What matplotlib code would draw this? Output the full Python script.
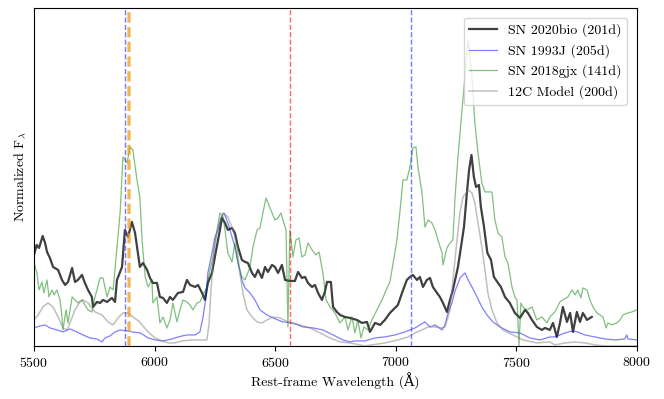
import matplotlib
matplotlib.use("Agg")
import matplotlib.pyplot as plt

plt.rcParams['font.family'] = ['cmr10', 'DejaVu Serif']
plt.rcParams['mathtext.fontset'] = 'cm'
plt.rcParams['axes.formatter.use_mathtext'] = True
plt.rcParams['font.size'] = 10

# SN 2020bio (201d)
wl_2020bio = [5500, 5511, 5521, 5536, 5546, 5554, 5566, 5579, 5600, 5616, 5629, 5641, 5658, 5670,
              5682, 5699, 5711, 5724, 5740, 5745, 5761, 5774, 5786, 5803, 5823, 5836, 5844, 5865,
              5877, 5890, 5906, 5919, 5939, 5952, 5969, 5981, 5993, 6010, 6022, 6035, 6051, 6064,
              6076, 6097, 6118, 6134, 6147, 6168, 6180, 6197, 6209, 6221, 6238, 6250, 6271, 6279,
              6292, 6304, 6321, 6333, 6346, 6362, 6375, 6387, 6404, 6416, 6429, 6445, 6458, 6470,
              6487, 6499, 6512, 6528, 6541, 6561, 6582, 6595, 6611, 6624, 6636, 6653, 6665, 6678,
              6694, 6706, 6715, 6731, 6740, 6756, 6769, 6789, 6810, 6839, 6860, 6881, 6893, 6914,
              6935, 6955, 6976, 6997, 7009, 7026, 7046, 7059, 7071, 7088, 7100, 7113, 7129, 7142,
              7154, 7171, 7183, 7196, 7212, 7225, 7237, 7258, 7283, 7295, 7304, 7314, 7324, 7333,
              7345, 7353, 7366, 7380, 7395, 7407, 7424, 7436, 7453, 7473, 7494, 7515, 7536, 7548,
              7565, 7585, 7606, 7619, 7639, 7652, 7668, 7681, 7693, 7710, 7723, 7735, 7751, 7764,
              7776, 7793, 7813]
fl_2020bio = [0.91, 1.01, 0.98, 1.10, 1.03, 0.94, 0.88, 0.79, 0.76, 0.66, 0.61, 0.64, 0.78, 0.64,
              0.66, 0.71, 0.63, 0.56, 0.49, 0.39, 0.44, 0.43, 0.46, 0.44, 0.48, 0.44, 0.66, 0.79,
              1.16, 1.09, 1.24, 1.13, 0.79, 0.83, 0.76, 0.68, 0.63, 0.63, 0.49, 0.48, 0.43, 0.49,
              0.46, 0.53, 0.54, 0.66, 0.61, 0.59, 0.61, 0.53, 0.46, 0.63, 0.73, 0.89, 1.16, 1.28,
              1.23, 1.16, 1.18, 1.13, 0.99, 0.86, 0.84, 0.83, 0.73, 0.69, 0.76, 0.68, 0.79, 0.74,
              0.81, 0.79, 0.73, 0.81, 0.66, 0.65, 0.65, 0.74, 0.68, 0.69, 0.63, 0.59, 0.61, 0.53,
              0.46, 0.54, 0.64, 0.64, 0.39, 0.34, 0.31, 0.29, 0.28, 0.26, 0.23, 0.24, 0.14, 0.23,
              0.21, 0.26, 0.33, 0.38, 0.41, 0.53, 0.66, 0.69, 0.71, 0.66, 0.69, 0.59, 0.66, 0.68,
              0.59, 0.53, 0.49, 0.43, 0.34, 0.46, 0.56, 0.79, 1.19, 1.53, 1.76, 1.91, 1.69, 1.59,
              1.61, 1.39, 1.19, 0.93, 0.86, 0.69, 0.63, 0.59, 0.49, 0.43, 0.33, 0.28, 0.36, 0.33,
              0.26, 0.19, 0.16, 0.18, 0.16, 0.23, 0.09, 0.23, 0.39, 0.24, 0.33, 0.14, 0.34, 0.24,
              0.33, 0.26, 0.29]

# SN 1993J (205d)
wl_1993J = [5500, 5525, 5546, 5566, 5595, 5620, 5649, 5678, 5703, 5732, 5761, 5782, 5794, 5815,
            5836, 5857, 5886, 5910, 5939, 5948, 5973, 6002, 6031, 6056, 6085, 6114, 6138, 6168,
            6188, 6201, 6213, 6221, 6238, 6250, 6263, 6275, 6288, 6304, 6321, 6333, 6346, 6362,
            6375, 6396, 6416, 6437, 6466, 6491, 6532, 6574, 6615, 6657, 6698, 6740, 6781, 6810,
            6831, 6872, 6914, 6955, 6997, 7038, 7080, 7100, 7121, 7142, 7163, 7192, 7204, 7217,
            7233, 7246, 7267, 7287, 7300, 7316, 7337, 7357, 7378, 7403, 7432, 7474, 7515, 7556,
            7598, 7639, 7660, 7702, 7731, 7755, 7784, 7826, 7867, 7909, 7950, 7958, 7963, 8000]
fl_1993J = [0.18, 0.20, 0.21, 0.18, 0.16, 0.14, 0.17, 0.14, 0.11, 0.08, 0.07, 0.04, 0.08, 0.10,
            0.14, 0.16, 0.15, 0.14, 0.13, 0.12, 0.08, 0.06, 0.05, 0.06, 0.08, 0.10, 0.11, 0.11,
            0.14, 0.29, 0.49, 0.73, 0.93, 1.09, 1.16, 1.28, 1.33, 1.23, 1.09, 0.99, 0.83, 0.66,
            0.58, 0.53, 0.46, 0.36, 0.31, 0.28, 0.24, 0.23, 0.19, 0.18, 0.16, 0.11, 0.06, 0.04,
            0.05, 0.05, 0.08, 0.09, 0.11, 0.14, 0.18, 0.21, 0.24, 0.19, 0.21, 0.16, 0.21, 0.33,
            0.43, 0.55, 0.68, 0.73, 0.66, 0.59, 0.49, 0.39, 0.31, 0.24, 0.19, 0.14, 0.13, 0.08,
            0.06, 0.09, 0.09, 0.13, 0.15, 0.14, 0.11, 0.09, 0.07, 0.06, 0.07, 0.11, 0.07, 0.06]

# SN 2018gjx (141d)
wl_2018gjx = [5500, 5512, 5521, 5533, 5541, 5554, 5562, 5575, 5583, 5595, 5608, 5616, 5620, 5633,
              5641, 5658, 5670, 5682, 5699, 5711, 5724, 5740, 5753, 5774, 5786, 5803, 5815, 5828,
              5844, 5857, 5869, 5886, 5898, 5910, 5927, 5939, 5948, 5961, 5973, 5989, 5993, 6010,
              6022, 6035, 6051, 6064, 6076, 6093, 6105, 6118, 6134, 6147, 6159, 6176, 6188, 6201,
              6217, 6230, 6242, 6259, 6271, 6284, 6292, 6304, 6321, 6333, 6346, 6362, 6375, 6396,
              6408, 6425, 6437, 6449, 6462, 6479, 6499, 6512, 6524, 6532, 6545, 6553, 6561, 6574,
              6586, 6599, 6611, 6624, 6636, 6653, 6669, 6682, 6698, 6711, 6727, 6748, 6769, 6789,
              6802, 6818, 6831, 6843, 6856, 6868, 6885, 6901, 6922, 6943, 6964, 6976, 6989, 7005,
              7018, 7030, 7046, 7059, 7071, 7084, 7092, 7109, 7121, 7134, 7150, 7163, 7175, 7192,
              7196, 7212, 7225, 7237, 7246, 7258, 7275, 7287, 7300, 7316, 7328, 7341, 7357, 7370,
              7399, 7411, 7424, 7440, 7453, 7465, 7482, 7494, 7503, 7511, 7519, 7527, 7544, 7565,
              7585, 7606, 7627, 7639, 7660, 7681, 7693, 7714, 7731, 7743, 7755, 7768, 7776, 7793,
              7805, 7818, 7834, 7847, 7859, 7872, 7880, 7896, 7917, 7930, 7942, 7963, 7979, 8000]
fl_2018gjx = [0.83, 0.73, 0.56, 0.64, 0.53, 0.66, 0.49, 0.56, 0.51, 0.56, 0.46, 0.29, 0.16, 0.36,
              0.23, 0.49, 0.46, 0.43, 0.46, 0.41, 0.36, 0.34, 0.49, 0.68, 0.68, 0.49, 0.59, 0.56,
              0.99, 1.33, 1.89, 1.83, 1.99, 1.96, 1.66, 1.49, 1.06, 0.69, 0.59, 0.66, 0.43, 0.49,
              0.23, 0.29, 0.18, 0.26, 0.43, 0.24, 0.36, 0.46, 0.44, 0.41, 0.36, 0.43, 0.44, 0.51,
              0.59, 0.76, 0.89, 1.16, 1.33, 1.29, 1.16, 0.93, 0.84, 1.03, 0.83, 0.69, 0.66, 0.79,
              0.99, 1.16, 1.18, 1.33, 1.48, 1.38, 1.26, 1.28, 1.33, 1.26, 1.16, 0.19, 1.16, 0.89,
              1.06, 1.08, 0.89, 0.91, 1.03, 0.96, 0.91, 0.94, 0.73, 0.46, 0.39, 0.33, 0.23, 0.29,
              0.16, 0.29, 0.13, 0.26, 0.08, 0.19, 0.16, 0.26, 0.36, 0.46, 0.58, 0.64, 0.83, 1.06,
              1.36, 1.66, 1.66, 1.79, 1.98, 1.99, 1.79, 1.53, 1.19, 1.26, 1.23, 1.16, 1.06, 0.93,
              0.81, 0.98, 1.03, 1.06, 1.49, 1.89, 2.36, 2.69, 3.06, 2.69, 2.23, 1.93, 1.63, 1.54,
              1.54, 1.26, 1.13, 1.09, 0.89, 0.83, 0.59, 0.49, 0.46, 0.00, 0.43, 0.39, 0.36, 0.39,
              0.26, 0.29, 0.23, 0.29, 0.34, 0.44, 0.46, 0.49, 0.56, 0.51, 0.56, 0.48, 0.58, 0.56,
              0.46, 0.39, 0.33, 0.31, 0.29, 0.18, 0.23, 0.21, 0.23, 0.26, 0.31, 0.33, 0.34, 0.36]

# 12C Model (200d)
wl_model = [5500, 5517, 5537, 5558, 5579, 5600, 5620, 5637, 5649, 5670, 5691, 5703, 5724, 5753,
            5782, 5807, 5828, 5848, 5869, 5890, 5910, 5939, 5948, 5973, 6002, 6031, 6056, 6085,
            6114, 6155, 6197, 6217, 6226, 6234, 6246, 6263, 6284, 6304, 6325, 6342, 6354, 6367,
            6383, 6404, 6425, 6445, 6466, 6491, 6520, 6561, 6603, 6644, 6686, 6727, 6769, 6810,
            6872, 6955, 7009, 7051, 7080, 7109, 7134, 7163, 7192, 7204, 7217, 7225, 7237, 7254,
            7266, 7279, 7300, 7316, 7328, 7341, 7357, 7370, 7382, 7399, 7420, 7444, 7486, 7527,
            7585, 7639, 7660, 7702, 7743, 7784, 7826, 7867, 8000]
fl_model = [0.26, 0.31, 0.39, 0.43, 0.39, 0.29, 0.18, 0.16, 0.23, 0.36, 0.44, 0.46, 0.43, 0.34,
            0.31, 0.24, 0.21, 0.28, 0.33, 0.33, 0.29, 0.24, 0.21, 0.14, 0.08, 0.05, 0.03, 0.03,
            0.05, 0.06, 0.06, 0.06, 0.23, 0.56, 0.96, 1.19, 1.33, 1.29, 1.16, 0.99, 0.72, 0.52,
            0.36, 0.29, 0.24, 0.23, 0.26, 0.29, 0.28, 0.23, 0.21, 0.18, 0.13, 0.08, 0.04, 0.03,
            0.00, 0.03, 0.06, 0.09, 0.13, 0.16, 0.19, 0.19, 0.18, 0.19, 0.29, 0.36, 0.66, 1.06,
            1.33, 1.49, 1.56, 1.53, 1.43, 1.23, 0.99, 0.76, 0.53, 0.36, 0.23, 0.16, 0.11, 0.06,
            0.03, 0.04, 0.01, 0.03, 0.04, 0.03, 0.01, 0.00, 0.00]

# line markers
lines_blue = [5876, 7065]
lines_orange = [5890, 5896]
lines_red = [6563]

fig = plt.figure(figsize=(6.64, 3.99), dpi=100)
ax = fig.add_axes([0.0512, 0.133, 0.908, 0.847])

ax.plot(wl_2020bio, fl_2020bio, color='black', alpha=0.75, lw=1.6, label='SN 2020bio (201d)')
ax.plot(wl_1993J, fl_1993J, color='blue', alpha=0.5, lw=0.9, label='SN 1993J (205d)')
ax.plot(wl_2018gjx, fl_2018gjx, color='green', alpha=0.5, lw=0.9, label='SN 2018gjx (141d)')
ax.plot(wl_model, fl_model, color='gray', alpha=0.5, lw=1.1, label='12C Model (200d)')

for w in lines_blue:
    ax.axvline(w, color='#3344ff', ls='--', lw=1, alpha=0.7)
for w in lines_orange:
    ax.axvline(w, color='#f0a020', ls='--', lw=2, alpha=0.55)
for w in lines_red:
    ax.axvline(w, color='red', ls='--', lw=1, alpha=0.6)

ax.set_xlim(5500, 8000)
ax.set_ylim(0, 3.38)
ax.set_yticks([])
ax.set_xlabel('Rest-frame Wavelength (Å)', labelpad=2)
ax.set_ylabel(r'Normalized F$_\lambda$')
ax.legend(loc='upper right', borderaxespad=0.7)

fig.savefig('out.png', dpi=100)
